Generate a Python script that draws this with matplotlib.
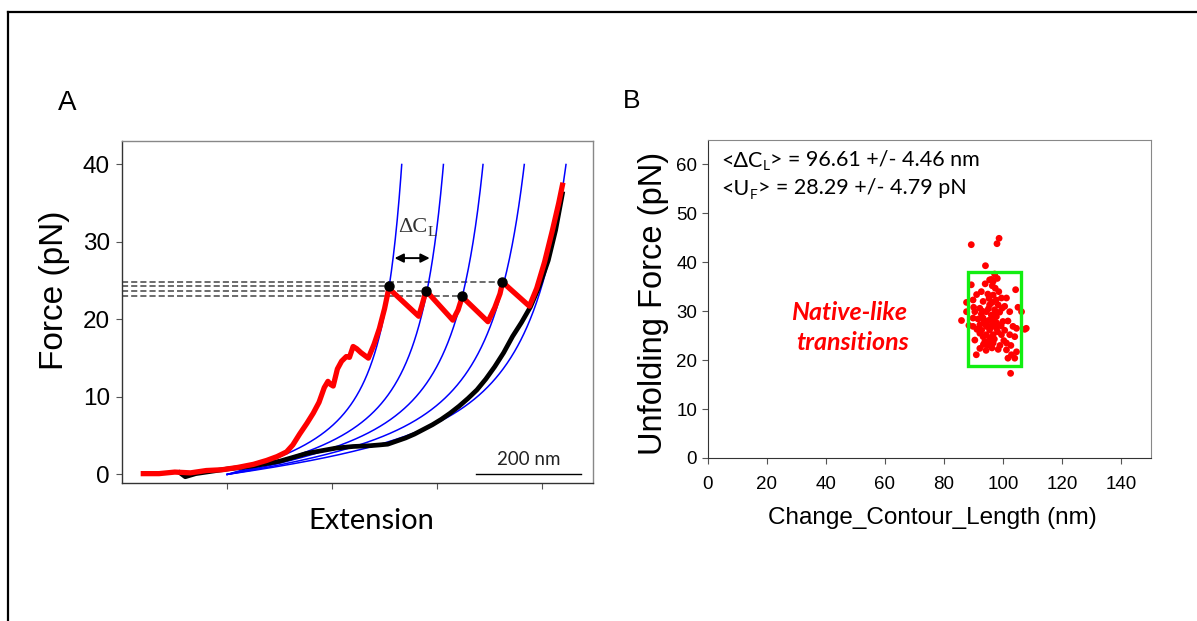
import numpy as np
import matplotlib
matplotlib.use("Agg")
import matplotlib.pyplot as plt
from matplotlib.lines import Line2D
from matplotlib.patches import Rectangle

# ---------------- Panel A data ----------------
red_x = [40, 70, 100, 130, 160, 190, 220, 250, 275, 295, 313, 325, 338, 352, 364, 375,
         385, 392, 397, 402, 410, 418, 427, 433, 440, 447, 455, 469, 480, 490, 500, 508,
         565, 572, 579, 630, 640, 648, 697, 710, 720, 725, 738, 776, 790, 805, 820, 832, 839]
red_f = [0.1, 0.1, 0.3, 0.2, 0.5, 0.6, 0.9, 1.3, 1.8, 2.3, 2.9, 3.8, 5.2, 6.6, 7.9, 9.3,
         11.2, 12.0, 11.6, 11.4, 13.6, 14.6, 15.2, 15.1, 16.5, 16.2, 15.7, 15.0, 16.8, 18.8, 21.4, 24.0,
         20.4, 22.0, 23.7, 19.9, 21.2, 22.9, 19.7, 21.5, 23.3, 24.8, 24.0, 21.7, 24.0, 27.4, 31.5, 35.0, 37.3]

black_x = [110, 120, 140, 200, 250, 300, 351, 408, 440, 472, 490, 506, 523, 540, 557, 574,
           591, 608, 625, 642, 659, 676, 693, 710, 727, 744, 761, 778, 795, 812, 826, 839]
black_f = [0.2, -0.3, 0.1, 0.7, 1.1, 1.7, 2.7, 3.4, 3.6, 3.7, 3.8, 3.9, 4.3, 4.7, 5.2, 5.8,
           6.4, 7.1, 7.9, 8.8, 9.8, 10.9, 12.3, 13.9, 15.7, 17.8, 19.6, 21.6, 24.3, 27.6, 31.5, 36.2]

# WLC fit parameters
wlc_offset = 200.0                      # nm, start of the fitted curves
contour_lengths = [410, 508, 601, 698, 796]   # nm
persistence = 0.78                      # nm
kT = 4.11                               # pN nm
f_top = 40.2

peak_x = [508.6, 578.5, 647.6, 724.6]
peak_f = [24.3, 23.7, 23.0, 24.8]

# ---------------- Panel B data ----------------
dcl = [89.2, 98.6, 97.9, 94.0, 96.0, 96.6, 95.4, 97.1, 96.3, 89.2, 92.6, 104.2, 96.6, 99.4, 101.1,
       89.8, 93.2, 95.4, 98.3, 87.6, 92.1, 90.4, 94.3, 97.1, 102.2, 105.0, 106.2, 87.6, 89.8, 93.2,
       95.4, 97.7, 99.9, 85.9, 89.8, 92.1, 94.3, 95.4, 96.6, 97.7, 103.3, 104.5, 107.8, 107.3, 92.1,
       93.2, 94.3, 95.4, 96.6, 99.4, 102.2, 103.9, 90.4, 93.8, 94.9, 96.6, 101.1, 92.1, 98.3, 101.1,
       90.9, 102.8, 103.9, 101.6, 104.5, 102.5,
       93.5, 94.8, 96.0, 97.3, 98.8, 95.0, 96.3, 97.6, 98.5, 94.8, 93.0, 91.5, 92.7, 95.8, 97.0,
       98.1, 99.3, 100.5, 96.2, 94.2, 95.6, 93.3, 97.8, 91.1, 100.2, 96.9, 94.1, 98.9, 92.6, 90.0,
       99.6, 101.6, 88.4, 95.2, 97.3, 93.9, 100.5, 102.6, 91.0, 98.0]
uf = [43.6, 44.9, 43.8, 39.3, 36.5, 36.1, 36.4, 37.6, 35.2, 35.4, 34.0, 34.4, 33.3, 32.7, 32.7,
      32.3, 32.0, 31.3, 31.3, 31.8, 30.6, 29.9, 29.9, 30.3, 29.9, 30.8, 29.9, 29.9, 28.6, 28.6,
      28.2, 28.9, 27.9, 28.1, 26.9, 27.2, 26.9, 26.2, 27.2, 26.5, 26.9, 26.5, 26.5, 26.3, 25.5,
      24.8, 25.2, 24.5, 25.2, 25.2, 25.2, 24.8, 24.1, 23.8, 23.1, 23.5, 23.5, 22.4, 22.2, 22.1,
      21.1, 21.1, 20.4, 20.4, 21.7, 17.3,
      27.8, 28.0, 29.2, 29.6, 29.8, 30.5, 31.8, 32.3, 34.0, 33.5, 30.0, 28.4, 26.1, 26.9, 24.3,
      25.8, 27.0, 26.1, 22.5, 22.0, 24.0, 23.2, 27.6, 26.3, 24.0, 28.3, 27.5, 23.0, 29.4, 30.8,
      30.6, 28.0, 27.1, 32.6, 34.7, 35.6, 31.0, 23.0, 33.4, 36.7]
box_x = [88.0, 105.9]
box_y = [18.8, 38.1]

xticks_a = [200, 400, 600, 800]
yticks_a = [0, 10, 20, 30, 40]
xticks_b = [0, 20, 40, 60, 80, 100, 120, 140]
yticks_b = [0, 10, 20, 30, 40, 50, 60]

ARIAL = ["Liberation Sans", "DejaVu Sans"]
CALI = ["Lato", "DejaVu Sans"]

fig = plt.figure(figsize=(11.97, 6.21), dpi=100)

# figure frame
fig.add_artist(Line2D([8/1197, 1.0], [1-12/621, 1-12/621], color="black", lw=1.6,
                      transform=fig.transFigure))
fig.add_artist(Line2D([8/1197, 8/1197], [0.0, 1-12/621], color="black", lw=1.6,
                      transform=fig.transFigure))

# ---------------- Panel A ----------------
axA = fig.add_axes([0.1022, 0.2227, 0.3935, 0.5502])
for i, L in enumerate(contour_lengths):
    ext = np.linspace(0, 0.9 * L, 600)
    u = ext / L
    F = kT / persistence * (0.25 / (1 - u) ** 2 - 0.25 + u)
    m = F <= f_top
    axA.plot(wlc_offset + ext[m], F[m], color="#0000ff", lw=1.1, zorder=2)

axA.plot(black_x, black_f, color="black", lw=3.4, zorder=3, solid_joinstyle="round")
axA.plot(red_x, red_f, color="#ff0000", lw=3.8, zorder=4, solid_joinstyle="round")

for px, pf in zip(peak_x, peak_f):
    axA.plot([0, px], [pf, pf], color="#444444", lw=1.1, ls=(0, (4, 2)), zorder=1)
axA.plot(peak_x, peak_f, "o", color="black", ms=6.5, zorder=5)

axA.annotate("", xy=(519, 27.9), xytext=(586, 27.9),
             arrowprops=dict(arrowstyle="<|-|>", color="black", lw=1.4,
                             mutation_scale=13, shrinkA=0, shrinkB=0))
t1 = axA.text(526, 31.8, "ΔC", fontsize=16, family=["Liberation Serif", "DejaVu Serif"],
              color="#333333", ha="left", va="center")
axA.annotate("L", xy=(1, 0.0), xycoords=t1, xytext=(0, -1), textcoords="offset points",
             fontsize=11, family=["Liberation Serif"], color="#333333", ha="left", va="bottom")

# scale bar
axA.plot([675, 875], [0.05, 0.05], color="black", lw=1.0)
axA.text(775, 0.8, "200 nm", fontsize=13.5, family=CALI, ha="center", va="bottom",
         color="#222222")

axA.set_xlim(0, 898)
axA.set_ylim(-1.07, 43.0)
axA.set_xticks(xticks_a)
axA.set_xticklabels([])
axA.set_yticks(yticks_a)
axA.tick_params(axis="y", labelsize=17.5, direction="out", length=4, color="#555555", pad=5)
axA.tick_params(axis="x", direction="out", length=4, color="#555555")
for lab in axA.get_yticklabels():
    lab.set_family(ARIAL)
for s in ["top", "right"]:
    axA.spines[s].set_color("#888888")
for s in ["left", "bottom"]:
    axA.spines[s].set_color("#333333")
for s in axA.spines.values():
    s.set_linewidth(1.0)
axA.set_ylabel("Force (pN)", fontsize=24, family=ARIAL)
axA.yaxis.set_label_coords(-0.112, 0.564)
axA.set_xlabel("Extension", fontsize=21, family=CALI)
axA.xaxis.set_label_coords(0.529, -0.075)

fig.text(67/1197, 1-103/621, "A", fontsize=20, family=ARIAL, ha="center", va="center")
fig.text(632/1197, 1-101/621, "B", fontsize=19, family=ARIAL, ha="center", va="center")

# ---------------- Panel B ----------------
axB = fig.add_axes([0.5911, 0.2625, 0.3705, 0.5121])
axB.scatter(dcl, uf, s=24, color="#ff0000", edgecolors="none", zorder=3)
axB.add_patch(Rectangle((box_x[0], box_y[0]), box_x[1]-box_x[0], box_y[1]-box_y[0],
                        fill=False, edgecolor="#11ee11", lw=2.4, zorder=4))
axB.set_xlim(0, 150)
axB.set_ylim(0, 65)
axB.set_xticks(xticks_b)
axB.set_yticks(yticks_b)
axB.tick_params(labelsize=13.5, direction="out", length=4, color="#555555")
axB.tick_params(axis="x", pad=9)
for lab in axB.get_xticklabels() + axB.get_yticklabels():
    lab.set_family(ARIAL)
for s in ["top", "right"]:
    axB.spines[s].set_color("#888888")
for s in ["left", "bottom"]:
    axB.spines[s].set_color("#333333")
axB.set_ylabel("Unfolding Force (pN)", fontsize=23.5, family=ARIAL)
axB.yaxis.set_label_coords(-0.088, 0.487)
axB.set_xlabel("Change_Contour_Length (nm)", fontsize=17.5, family=ARIAL)
axB.xaxis.set_label_coords(0.506, -0.155)

# statistics text
tb1 = axB.text(4.8, 60.8, "<ΔC", fontsize=15.5, family=CALI, ha="left", va="center")
tb2 = axB.annotate("L", xy=(1, 0.05), xycoords=tb1, xytext=(0, -2), textcoords="offset points",
                   fontsize=10, family=CALI, ha="left", va="bottom")
axB.annotate("> = 96.61 +/- 4.46 nm", xy=(1, 0), xycoords=tb2, xytext=(0, 2),
             textcoords="offset points", fontsize=15.5, family=CALI, ha="left", va="bottom")
tc1 = axB.text(4.8, 55.0, "<U", fontsize=15.5, family=CALI, ha="left", va="center")
tc2 = axB.annotate("F", xy=(1, 0.05), xycoords=tc1, xytext=(0, -2), textcoords="offset points",
                   fontsize=10, family=CALI, ha="left", va="bottom")
axB.annotate("> = 28.29 +/- 4.79 pN", xy=(1, 0), xycoords=tc2, xytext=(0, 2),
             textcoords="offset points", fontsize=15.5, family=CALI, ha="left", va="bottom")

axB.text(48.0, 29.8, "Native-like", fontsize=18, family=CALI, fontweight="bold",
         fontstyle="italic", color="#ff0000", ha="center", va="center")
axB.text(49.0, 23.6, "transitions", fontsize=18, family=CALI, fontweight="bold",
         fontstyle="italic", color="#ff0000", ha="center", va="center")

fig.savefig("out.png", dpi=100)
